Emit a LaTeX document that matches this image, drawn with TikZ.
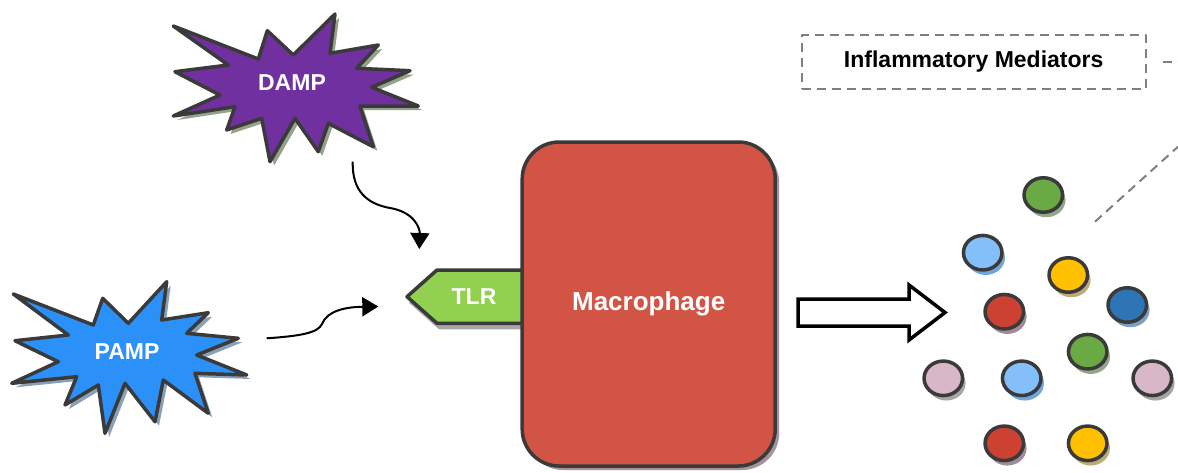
\documentclass[tikz,border=0pt]{standalone}
\usepackage{fontspec}
\setmainfont{Liberation Sans}
\usetikzlibrary{positioning,shapes.geometric,shadows,arrows.meta}

\definecolor{edgegray}{HTML}{3A3A3A}
\definecolor{dashgray}{HTML}{7F7F7F}
\definecolor{dampfill}{HTML}{7030A0}
\definecolor{dampshadow}{HTML}{93A288}
\definecolor{pampfill}{HTML}{2B90F7}
\definecolor{pampshadow}{HTML}{8AA0B8}
\definecolor{tlrfill}{HTML}{92D050}
\definecolor{tlrshadow}{HTML}{A6A6A6}
\definecolor{macfill}{HTML}{D25444}
\definecolor{macshadow}{HTML}{A5929F}
\definecolor{medgreen}{HTML}{6AAA45}
\definecolor{medgreensh}{HTML}{93A78A}
\definecolor{medlblue}{HTML}{85BFFA}
\definecolor{medlbluesh}{HTML}{6FA5DD}
\definecolor{medyellow}{HTML}{FFC000}
\definecolor{medyellowsh}{HTML}{BCAA78}
\definecolor{medred}{HTML}{CC4131}
\definecolor{medredsh}{HTML}{A38A98}
\definecolor{medblue}{HTML}{2E75B6}
\definecolor{medbluesh}{HTML}{7F9DC0}
\definecolor{medpink}{HTML}{D8B8C8}
\definecolor{medpinksh}{HTML}{A5A5A5}

\begin{document}
\begin{tikzpicture}[%
        x=1pt, y=-1pt,
        line join=round,
        burst/.style 2 args={%
          draw=edgegray, line width=3.5pt, fill=#1,
          drop shadow={fill=#2, opacity=1, shadow xshift=4pt, shadow yshift=-4pt}
        },
        whitetext/.style={%
          text=white, font=\fontsize{23pt}{27pt}\selectfont\bfseries
        },
        tlrbox/.style={%
          draw=edgegray, line width=3.5pt, fill=tlrfill,
          drop shadow={fill=tlrshadow, opacity=1, shadow xshift=2pt, shadow yshift=-6pt}
        },
        macbox/.style={%
          rectangle, rounded corners=37pt,
          draw=edgegray, line width=3.5pt, fill=macfill,
          minimum width=253pt, minimum height=324pt,
          text=white, font=\fontsize{26pt}{30pt}\selectfont\bfseries,
          drop shadow={fill=macshadow, opacity=1, shadow xshift=4pt, shadow yshift=-4pt}
        },
        signalarrow/.style={%
          line width=2pt, -{Triangle[length=16pt,width=19pt]}
        },
        bigarrow/.style={%
          draw=black, line width=3.5pt, fill=white, line join=miter
        },
        mediator/.style 2 args={%
          ellipse, draw=edgegray, line width=3.5pt, fill=#1,
          minimum width=38.5pt, minimum height=34.5pt, inner sep=0pt,
          drop shadow={fill=#2, opacity=1, shadow xshift=3pt, shadow yshift=-5pt}
        },
        calloutbox/.style={%
          rectangle, draw=dashgray, line width=2pt, dash pattern=on 9pt off 6pt,
          minimum width=344pt, minimum height=54pt,
          font=\fontsize{23pt}{27pt}\selectfont\bfseries
        },
        calloutline/.style={%
          draw=dashgray, line width=2pt, dash pattern=on 9pt off 6pt
        }
      ]
      \useasboundingbox (0,0) rectangle (1178,472);

      % danger and pathogen signals
      \draw[burst={dampfill}{dampshadow}] (173.3,26) -- (258.3,59) -- (267.3,30.7) -- (293.3,55)
        -- (335,14) -- (330,53.3) -- (378.3,45) -- (356.7,68.3) -- (410,70.7) -- (371.7,87.3)
        -- (418.3,106) -- (360,106) -- (373.3,146.7) -- (328.3,123.3) -- (318.3,151.7)
        -- (295,118.3) -- (270,161.7) -- (261.7,118.3) -- (226.7,130) -- (235,106.7)
        -- (173.3,116) -- (220,95) -- (175,71.7) -- (228.3,65) -- cycle;
      \node[whitetext] (damp) at (292,83) {DAMP};

      \draw[burst={pampfill}{pampshadow}] (13.3,294) -- (93.3,325) -- (102.7,298.3) -- (128.3,323.3)
        -- (166.7,281.7) -- (161.7,320) -- (208.3,312.7) -- (186.7,333.3) -- (238.3,338.3)
        -- (196.7,355) -- (246.7,375) -- (195,373.3) -- (208.3,413.3) -- (163.3,380)
        -- (155,421.7) -- (125,383.3) -- (105,433.3) -- (98.3,385) -- (65,405) -- (76.7,376.7)
        -- (11.7,383.3) -- (58.3,361.7) -- (15,340.7) -- (68.3,335) -- cycle;
      \node[whitetext] (pamp) at (127,352) {PAMP};

      % receptor and cell
      \draw[tlrbox] (530,270) -- (437,270) -- (407,296.7) -- (437,323.3) -- (530,323.3) -- cycle;
      \node[whitetext] (tlr) at (474,297) {TLR};
      \node[macbox] (mac) at (648.7,304) {Macrophage};

      \coordinate (dampout) at (352.7,161.7);
      \coordinate (tlrtop) at (419.3,249);
      \coordinate (pampout) at (266.7,338.3);
      \coordinate (tlrleft) at (378.3,306.5);

      \draw[signalarrow] (dampout) .. controls (352,192) and (368,204) .. (390,208)
        .. controls (414,212) and (420,228) .. (tlrtop);
      \draw[signalarrow] (pampout) .. controls (300,336) and (318,333) .. (322,324)
        .. controls (327,311) and (345,307) .. (tlrleft);

      \draw[bigarrow] (798,299) -- (909,299) -- (909,285) -- (945,312.5) -- (909,340)
        -- (909,326) -- (798,326) -- cycle;
      \coordinate (release) at (871.7,312.5);

      % released mediators
      \node[mediator={medgreen}{medgreensh}] (med1) at (1043.3,195) {};
      \node[mediator={medlblue}{medlbluesh}] (med2) at (982.7,252.7) {};
      \node[mediator={medyellow}{medyellowsh}] (med3) at (1068.3,275) {};
      \node[mediator={medred}{medredsh}] (med4) at (1004.3,311.7) {};
      \node[mediator={medblue}{medbluesh}] (med5) at (1127.3,305) {};
      \node[mediator={medgreen}{medgreensh}] (med6) at (1087.7,351.7) {};
      \node[mediator={medpink}{medpinksh}] (med7) at (943.3,378.3) {};
      \node[mediator={medlblue}{medlbluesh}] (med8) at (1021.7,378.3) {};
      \node[mediator={medpink}{medpinksh}] (med9) at (1152.3,378.3) {};
      \node[mediator={medred}{medredsh}] (med10) at (1004.3,443.3) {};
      \node[mediator={medyellow}{medyellowsh}] (med11) at (1087.7,443.3) {};

      % callout
      \node[calloutbox] (mediators) at (973.7,62) {Inflammatory Mediators};
      \coordinate (calloutright) at (1178,62);
      \coordinate (calloutlow) at (1095,221.7);
      \coordinate (calloutup) at (1178,146.7);
      \path[calloutline] ([xshift=16pt]mediators.east) -- (calloutright);
      \path[calloutline] (calloutlow) -- (calloutup);

    \end{tikzpicture}
\end{document}
